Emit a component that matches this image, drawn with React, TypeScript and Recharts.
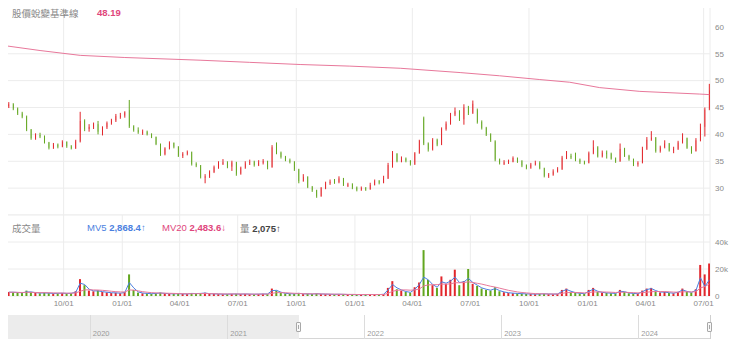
import React from "react";
import { ComposedChart, Bar, Line, XAxis, YAxis, CartesianGrid, Cell } from "recharts";

// weekly samples (Wednesdays)
const weeks2021 = ["07-07","07-14","07-21","07-28","08-04","08-11","08-18","08-25","09-01","09-08","09-15","09-22","09-29","10-06","10-13","10-20","10-27","11-03","11-10","11-17","11-24","12-01","12-08","12-15","12-22","12-29"];
const weeks2022 = ["01-05","01-12","01-19","01-26","02-02","02-09","02-16","02-23","03-02","03-09","03-16","03-23","03-30","04-06","04-13","04-20","04-27","05-04","05-11","05-18","05-25","06-01","06-08","06-15","06-22","06-29","07-06","07-13","07-20","07-27","08-03","08-10","08-17","08-24","08-31","09-07","09-14","09-21","09-28","10-05","10-12","10-19","10-26","11-02","11-09","11-16","11-23","11-30","12-07","12-14","12-21","12-28"];
const weeks2023 = ["01-04","01-11","01-18","01-25","02-01","02-08","02-15","02-22","03-01","03-08","03-15","03-22","03-29","04-05","04-12","04-19","04-26","05-03","05-10","05-17","05-24","05-31","06-07","06-14","06-21","06-28","07-05","07-12","07-19","07-26","08-02","08-09","08-16","08-23","08-30","09-06","09-13","09-20","09-27","10-04","10-11","10-18","10-25","11-01","11-08","11-15","11-22","11-29","12-06","12-13","12-20","12-27"];
const weeks2024 = ["01-03","01-10","01-17","01-24","01-31","02-07","02-14","02-21","02-28","03-06","03-13","03-20","03-27","04-03","04-10","04-17","04-24","05-01","05-08","05-15","05-22","05-29","06-05","06-12","06-19","06-26","07-03","07-10"];

const opens = [
  45.2, 45.6, 44.8, 43.9, 43.3, 40.9, 39.3, 39.9, 39.6, 38.5,
  37.5, 38.1, 37.7, 38.6, 37.8, 37.4, 38.7, 42.5, 41.0, 41.4,
  41.9, 40.5, 41.3, 42.1, 42.6, 43.4, 43.5, 44.5, 41.5, 40.8,
  40.4, 40.5, 40.0, 39.5, 38.2, 36.3, 37.4, 38.4, 37.7, 36.0,
  36.4, 36.7, 34.5, 34.2, 32.0, 32.2, 33.0, 33.9, 34.6, 34.8,
  34.0, 34.8, 32.7, 33.8, 34.6, 34.9, 34.3, 34.8, 35.0, 33.9,
  37.6, 36.6, 35.8, 35.2, 34.9, 33.5, 31.3, 32.1, 30.2, 29.6,
  28.5, 30.0, 30.9, 31.2, 31.1, 31.8, 30.6, 30.7, 30.1, 29.7,
  30.0, 29.8, 30.6, 31.3, 31.0, 31.8, 34.3, 36.4, 35.0, 35.5,
  35.1, 34.5, 36.5, 43.0, 38.3, 37.2, 39.0, 38.1, 41.0, 42.0,
  43.7, 44.3, 42.8, 45.0, 44.0, 44.5, 42.3, 41.2, 40.0, 38.7,
  35.3, 34.7, 34.8, 34.9, 35.6, 35.0, 34.2, 33.8, 34.4, 34.7,
  33.7, 32.3, 32.5, 33.1, 33.5, 35.7, 36.0, 35.7, 35.3, 34.8,
  34.7, 36.5, 37.6, 35.9, 36.6, 36.4, 35.5, 35.0, 37.3, 36.0,
  35.4, 34.4, 34.7, 37.3, 39.0, 39.4, 36.9, 37.6, 38.3, 37.0,
  37.3, 38.5, 39.3, 37.5, 36.9, 38.9, 41.4, 44.8,
];
const highs = [
  46.0, 45.8, 45.0, 44.2, 43.5, 41.0, 40.2, 40.3, 39.8, 38.6,
  38.4, 38.3, 38.9, 38.7, 38.0, 39.0, 44.2, 42.8, 41.9, 42.2,
  42.5, 41.5, 42.4, 42.9, 43.8, 44.0, 44.3, 46.4, 41.7, 41.3,
  40.9, 40.7, 40.2, 39.6, 38.3, 37.6, 38.7, 38.5, 37.8, 36.7,
  37.0, 36.8, 34.8, 34.3, 32.6, 33.3, 34.2, 35.0, 35.4, 35.0,
  35.1, 34.9, 34.0, 35.0, 35.3, 35.1, 35.2, 35.4, 35.1, 38.0,
  38.5, 36.8, 36.0, 35.5, 35.0, 33.6, 32.6, 32.2, 30.4, 29.7,
  30.2, 31.2, 31.6, 31.7, 32.2, 31.9, 31.0, 30.9, 30.3, 30.3,
  30.2, 31.0, 31.6, 31.5, 32.3, 34.7, 36.9, 36.5, 35.9, 35.7,
  35.2, 36.7, 39.0, 43.3, 38.5, 39.3, 39.2, 41.3, 42.4, 44.0,
  45.0, 44.5, 45.6, 45.3, 46.3, 44.8, 42.6, 41.4, 40.2, 38.9,
  35.5, 35.2, 35.3, 35.9, 35.7, 35.2, 34.4, 34.7, 35.1, 35.0,
  33.8, 32.8, 33.5, 33.9, 36.0, 36.9, 36.4, 36.6, 35.5, 35.1,
  36.8, 38.9, 37.8, 37.0, 37.0, 36.6, 35.7, 38.3, 37.5, 36.2,
  35.5, 35.0, 37.7, 39.5, 40.6, 39.5, 37.9, 38.9, 38.4, 37.7,
  38.8, 40.2, 39.4, 37.8, 39.3, 42.0, 45.0, 49.4,
];
const lows = [
  44.9, 44.5, 43.6, 43.0, 40.6, 39.0, 39.0, 39.3, 38.3, 37.2,
  37.3, 37.4, 37.6, 37.5, 37.2, 37.3, 38.5, 40.6, 40.5, 41.0,
  40.0, 39.8, 41.0, 41.8, 42.3, 42.9, 43.1, 41.2, 40.5, 40.1,
  39.9, 39.8, 39.3, 38.0, 36.0, 36.1, 37.2, 37.4, 35.8, 35.6,
  36.1, 34.2, 33.9, 31.8, 30.9, 31.9, 32.8, 33.6, 34.3, 33.7,
  33.2, 32.3, 32.5, 33.6, 34.3, 34.0, 34.1, 34.4, 33.5, 33.8,
  36.3, 35.5, 35.0, 34.6, 33.2, 30.9, 31.2, 30.0, 29.3, 28.2,
  28.4, 29.8, 30.6, 30.8, 30.9, 30.4, 30.2, 29.8, 29.4, 29.5,
  29.5, 29.7, 30.5, 30.7, 30.9, 31.7, 33.8, 34.8, 34.8, 34.8,
  34.2, 34.3, 36.4, 38.0, 36.8, 37.0, 37.8, 38.0, 40.7, 41.8,
  43.4, 42.5, 41.8, 43.6, 43.8, 42.0, 40.9, 39.7, 38.6, 35.0,
  34.4, 34.3, 34.5, 34.8, 34.7, 33.9, 33.5, 33.6, 34.2, 33.5,
  32.0, 31.9, 32.3, 32.9, 33.4, 35.4, 35.4, 35.0, 34.5, 34.4,
  34.6, 36.3, 35.7, 35.7, 35.5, 35.3, 34.7, 34.9, 35.8, 35.1,
  34.1, 34.0, 34.6, 37.1, 38.8, 36.6, 36.6, 37.4, 36.8, 36.5,
  37.1, 38.3, 37.3, 36.4, 36.8, 38.7, 39.6, 44.5,
];
const closes = [
  45.6, 44.8, 43.9, 43.3, 40.9, 39.3, 39.9, 39.6, 38.5, 37.5,
  38.1, 37.7, 38.6, 37.8, 37.4, 38.7, 42.5, 41.0, 41.4, 41.9,
  40.5, 41.3, 42.1, 42.6, 43.4, 43.5, 44.1, 41.5, 40.8, 40.4,
  40.5, 40.0, 39.5, 38.2, 36.3, 37.4, 38.4, 37.7, 36.0, 36.4,
  36.7, 34.5, 34.2, 32.0, 32.2, 33.0, 33.9, 34.6, 34.8, 34.0,
  34.8, 32.7, 33.8, 34.6, 34.9, 34.3, 34.8, 35.0, 33.9, 37.6,
  36.6, 35.8, 35.2, 34.9, 33.5, 31.3, 32.1, 30.2, 29.6, 28.5,
  30.0, 30.9, 31.2, 31.1, 31.8, 30.6, 30.7, 30.1, 29.7, 30.0,
  29.8, 30.6, 31.3, 31.0, 31.8, 34.3, 36.4, 35.0, 35.5, 35.1,
  34.5, 36.5, 38.8, 38.3, 37.2, 39.0, 38.1, 41.0, 42.0, 43.7,
  44.3, 42.8, 45.0, 44.0, 45.7, 42.3, 41.2, 40.0, 38.9, 35.3,
  34.7, 34.8, 34.9, 35.6, 35.0, 34.2, 33.8, 34.4, 34.7, 33.7,
  32.3, 32.5, 33.1, 33.5, 35.7, 36.0, 35.7, 35.3, 34.8, 34.7,
  36.5, 37.6, 35.9, 36.6, 36.4, 35.5, 35.0, 37.3, 36.0, 35.4,
  34.4, 34.7, 37.3, 39.0, 39.4, 36.9, 37.6, 38.3, 37.0, 37.3,
  38.5, 39.3, 37.5, 36.9, 38.9, 41.4, 44.6, 48.19,
];

// volume, thousands of lots
const volumes = [
  3.0, 2.8, 2.5, 2.2, 4.0, 3.0, 2.2, 2.0, 2.4, 2.1,
  1.8, 2.0, 2.2, 1.8, 2.0, 3.5, 12.5, 8.0, 4.0, 3.5,
  4.2, 3.0, 2.6, 2.2, 2.4, 2.0, 3.0, 16.0, 4.5, 2.5,
  2.0, 1.8, 1.6, 2.0, 2.5, 1.8, 1.6, 1.5, 1.8, 1.5,
  1.4, 2.2, 1.8, 2.0, 2.4, 1.6, 1.5, 1.4, 1.3, 1.4,
  1.5, 1.6, 1.4, 1.5, 1.3, 1.2, 1.4, 1.6, 1.5, 5.5,
  4.0, 2.2, 1.8, 1.5, 1.6, 2.2, 1.4, 1.6, 1.5, 1.8,
  1.4, 1.3, 1.2, 1.1, 1.3, 1.2, 1.0, 1.1, 1.0, 0.9,
  1.0, 1.2, 1.1, 1.0, 1.4, 6.0, 11.0, 5.0, 4.0, 3.0,
  2.5, 6.5, 10.0, 34.0, 12.0, 8.0, 6.0, 14.5, 9.0, 12.0,
  19.5, 8.0, 11.0, 20.0, 9.0, 7.5, 5.5, 4.5, 4.0, 6.5,
  3.5, 2.8, 2.2, 2.0, 1.8, 1.6, 1.5, 1.4, 1.3, 1.5,
  1.6, 1.4, 1.3, 1.5, 4.5, 5.5, 3.0, 2.2, 1.8, 1.6,
  4.5, 6.0, 3.0, 2.5, 2.2, 2.0, 1.8, 4.5, 3.0, 2.0,
  1.8, 1.6, 4.0, 5.5, 6.0, 3.5, 2.6, 3.0, 2.2, 2.0,
  3.0, 5.5, 3.0, 2.5, 5.0, 23.0, 16.0, 24.0,
];
const mv5 = [
  2.8, 2.8, 2.6, 2.4, 3.0, 3.0, 2.5, 2.2, 2.3, 2.1,
  1.9, 2.0, 2.1, 1.9, 2.0, 2.8, 9.5, 8.5, 5.0, 3.8,
  3.8, 3.2, 2.8, 2.4, 2.3, 2.1, 2.6, 10.0, 6.0, 3.0,
  2.2, 1.9, 1.7, 1.9, 2.2, 1.9, 1.7, 1.6, 1.7, 1.6,
  1.5, 1.9, 1.8, 1.9, 2.2, 1.7, 1.6, 1.5, 1.4, 1.4,
  1.5, 1.5, 1.4, 1.5, 1.4, 1.3, 1.4, 1.5, 1.5, 4.0,
  4.2, 2.8, 2.0, 1.7, 1.6, 2.0, 1.6, 1.6, 1.5, 1.7,
  1.5, 1.4, 1.3, 1.2, 1.3, 1.2, 1.1, 1.1, 1.0, 1.0,
  1.0, 1.1, 1.1, 1.0, 1.3, 4.5, 8.5, 6.0, 4.5, 3.3,
  2.7, 5.0, 8.5, 14.0, 12.0, 8.5, 6.5, 10.5, 9.5, 11.0,
  14.0, 10.0, 10.5, 13.0, 10.0, 8.0, 6.0, 5.0, 4.3, 5.5,
  4.0, 3.0, 2.4, 2.1, 1.9, 1.7, 1.6, 1.5, 1.4, 1.5,
  1.6, 1.5, 1.4, 1.5, 3.5, 4.8, 3.5, 2.5, 2.0, 1.7,
  3.5, 5.0, 3.5, 2.7, 2.3, 2.1, 1.9, 3.5, 3.2, 2.2,
  1.9, 1.7, 3.2, 4.8, 5.5, 4.0, 2.9, 2.9, 2.4, 2.1,
  2.8, 4.5, 3.4, 2.7, 4.2, 13.5, 7.0, 12.0,
];
const mv20 = [
  2.8, 2.8, 2.7, 2.6, 2.7, 2.7, 2.6, 2.5, 2.5, 2.4, 2.3, 2.2, 2.2, 2.1, 2.1, 2.3,
  3.5, 4.5, 4.6, 4.5, 4.4, 4.2, 3.9, 3.5, 3.2, 3.0, 3.0, 4.5, 4.3, 3.8, 3.2, 2.8,
  2.5, 2.3, 2.2, 2.1, 2.0, 1.9, 1.8, 1.7, 1.7, 1.7, 1.7, 1.8, 1.8, 1.8, 1.7, 1.6,
  1.5, 1.5, 1.5, 1.5, 1.5, 1.5, 1.4, 1.4, 1.4, 1.4, 1.4, 2.0, 2.5, 2.5, 2.4, 2.2,
  2.0, 1.9, 1.7, 1.6, 1.6, 1.6, 1.5, 1.5, 1.4, 1.4, 1.3, 1.3, 1.2, 1.2, 1.1, 1.1,
  1.1, 1.1, 1.1, 1.1, 1.1, 2.0, 3.5, 4.2, 4.5, 4.5, 4.3, 4.5, 5.2, 7.5, 8.2, 8.4,
  8.4, 8.8, 8.8, 9.0, 9.8, 9.8, 10.0, 10.5, 10.0, 9.4, 8.8, 8.0, 7.2, 6.6, 5.8, 5.0,
  4.2, 3.6, 3.0, 2.6, 2.3, 2.0, 1.8, 1.7, 1.6, 1.5, 1.5, 1.5, 2.0, 2.5, 2.6, 2.6,
  2.5, 2.3, 2.6, 3.0, 3.0, 3.0, 2.9, 2.8, 2.6, 2.8, 2.8, 2.6, 2.5, 2.3, 2.5, 2.8,
  3.2, 3.3, 3.3, 3.3, 3.1, 2.9, 2.8, 3.1, 3.1, 3.0, 3.2, 6.0, 7.0, 9.0,
];

// pink reference line
const baseDates = ["2021-07-01","2021-08-25","2021-10-27","2022-01-05","2022-05-03","2022-07-20","2022-10-07","2022-12-24","2023-03-13","2023-06-15","2023-08-16","2023-10-18","2023-12-04","2024-01-20","2024-03-23","2024-06-25","2024-07-10"];
const baseValues = [56.5, 55.6, 54.7, 54.3, 53.8, 53.4, 53.0, 52.7, 52.3, 51.5, 50.9, 50.2, 49.7, 48.7, 48.0, 47.5, 47.4];

const quarterTicks = ["2021-10-01","2022-01-01","2022-04-01","2022-07-01","2022-10-01","2023-01-01","2023-04-01","2023-07-01","2023-10-01","2024-01-01","2024-04-01","2024-07-01"];
const priceTicks = [25, 30, 35, 40, 45, 50, 55, 60, 65];
const volumeTicks = [0, 20, 40];
const navYears = ["2020", "2021", "2022", "2023", "2024"];

const UP = "#e2262b";
const DOWN = "#62a61f";
const PINK = "#e8789b";
const BLUE = "#4b7fe0";
const FONT = "Arial, 'Liberation Sans', 'Noto Sans CJK TC', sans-serif";

const dates = [
  ...weeks2021.map((d) => "2021-" + d),
  ...weeks2022.map((d) => "2022-" + d),
  ...weeks2023.map((d) => "2023-" + d),
  ...weeks2024.map((d) => "2024-" + d),
];

const rows = dates.map((d, i) => ({
  t: Date.parse(d),
  open: opens[i],
  high: highs[i],
  low: lows[i],
  close: closes[i],
  range: [lows[i], highs[i]],
  vol: volumes[i],
  mv5: mv5[i],
  mv20: mv20[i],
}));
const baseRows = baseDates.map((d, i) => ({ t: Date.parse(d), base: baseValues[i] }));
const xTicks = quarterTicks.map((d) => Date.parse(d));
const xDomain = [Date.parse("2021-07-01"), Date.parse("2024-07-11")];

const fmtDate = (v: number) => {
  const d = new Date(v);
  const mm = String(d.getUTCMonth() + 1).padStart(2, "0");
  const dd = String(d.getUTCDate()).padStart(2, "0");
  return `${mm}/${dd}`;
};

const Candle = (props: any) => {
  const { x, y, width, height, payload } = props;
  if (x == null || y == null || !payload) return null;
  const top = Math.min(y, y + height);
  const bot = Math.max(y, y + height);
  const span = payload.high - payload.low || 1;
  const toY = (v: number) => top + ((payload.high - v) / span) * (bot - top);
  const up = payload.close >= payload.open;
  const color = up ? UP : DOWN;
  const cx = x + width / 2;
  const y1 = toY(Math.max(payload.open, payload.close));
  const y2 = toY(Math.min(payload.open, payload.close));
  return (
    <g>
      <line x1={cx} x2={cx} y1={top} y2={bot} stroke={color} strokeWidth={1} />
      <rect x={x} y={y1} width={width} height={Math.max(1.5, y2 - y1)} fill={color} />
    </g>
  );
};

const tickStyle = { fontSize: 8, fill: "#8a8a8a", fontFamily: FONT };

// navigator scale (decoration under the chart)
const navStart = Date.parse("2019-05-20");
const navEnd = Date.parse("2024-07-10");
const navX = (d: string) => 5 + ((Date.parse(d) - navStart) / (navEnd - navStart)) * 705;

const Handle = ({ left }: { left: number }) => (
  <div
    style={{
      position: "absolute",
      left: left - 3,
      top: 322,
      width: 5,
      height: 10,
      background: "#f8f8f8",
      border: "1px solid #a8a8a8",
      borderRadius: 1,
      boxSizing: "border-box",
    }}
  >
    <div style={{ position: "absolute", left: 1, top: 2, width: 1, height: 4, background: "#a8a8a8" }} />
  </div>
);

export default function App() {
  const maskEnd = navX("2021-07-12");
  return (
    <div style={{ position: "relative", width: 740, height: 352, margin: -8, fontFamily: FONT, background: "#fff", overflow: "hidden" }}>
      <div style={{ position: "absolute", left: 0, top: 0 }}>
        <ComposedChart width={740} height={215} data={rows} margin={{ top: 0, right: 0, left: 5, bottom: 0 }}>
          <CartesianGrid stroke="#ececec" />
          <XAxis dataKey="t" type="number" domain={xDomain} ticks={xTicks} allowDataOverflow hide />
          <YAxis
            orientation="right"
            domain={[25, 65]}
            ticks={priceTicks}
            width={30}
            axisLine={false}
            tickLine={false}
            tickSize={5}
            tickMargin={0}
            tick={tickStyle}
            allowDataOverflow
          />
          <Bar dataKey="range" barSize={4} shape={<Candle />} isAnimationActive={false} />
          <Line data={baseRows} dataKey="base" type="linear" stroke={PINK} strokeWidth={1} dot={false} isAnimationActive={false} />
        </ComposedChart>
      </div>

      <div style={{ position: "absolute", left: 0, top: 210 }}>
        <ComposedChart width={740} height={110} data={rows} margin={{ top: 5, right: 0, left: 5, bottom: 0 }}>
          <CartesianGrid stroke="#ececec" />
          <XAxis
            dataKey="t"
            type="number"
            domain={xDomain}
            ticks={xTicks}
            tickFormatter={fmtDate}
            allowDataOverflow
            height={24}
            axisLine={false}
            tickLine={false}
            tickSize={4}
            tickMargin={0}
            tick={tickStyle}
          />
          <YAxis
            orientation="right"
            domain={[0, 60]}
            ticks={volumeTicks}
            tickFormatter={(v: number) => (v ? `${v}k` : "0")}
            width={30}
            axisLine={false}
            tickLine={false}
            tickSize={5}
            tickMargin={0}
            tick={tickStyle}
            allowDataOverflow
          />
          <Bar dataKey="vol" barSize={2} isAnimationActive={false}>
            {rows.map((r, i) => (
              <Cell key={i} fill={r.close >= r.open ? UP : DOWN} />
            ))}
          </Bar>
          <Line dataKey="mv5" type="linear" stroke={BLUE} strokeWidth={1} dot={false} isAnimationActive={false} />
          <Line dataKey="mv20" type="linear" stroke={PINK} strokeWidth={1} dot={false} isAnimationActive={false} />
        </ComposedChart>
      </div>

      {/* headers */}
      <div style={{ position: "absolute", left: 12, top: 7, fontSize: 9.5, color: "#888", fontFamily: "'Noto Sans CJK TC', sans-serif", lineHeight: "12px" }}>
        股價蛻變基準線
      </div>
      <div style={{ position: "absolute", left: 97, top: 7, fontSize: 9.5, color: "#e0467c", fontWeight: 700, lineHeight: "12px" }}>
        48.19
      </div>
      <div style={{ position: "absolute", left: 12, top: 222, fontSize: 9.5, color: "#888", fontFamily: "'Noto Sans CJK TC', sans-serif", lineHeight: "12px" }}>
        成交量
      </div>
      <div style={{ position: "absolute", left: 87, top: 222, fontSize: 9.5, color: BLUE, lineHeight: "12px", whiteSpace: "nowrap" }}>
        MV5 <b>2,868.4↑</b>
      </div>
      <div style={{ position: "absolute", left: 162, top: 222, fontSize: 9.5, color: "#e0467c", lineHeight: "12px", whiteSpace: "nowrap" }}>
        MV20 <b>2,483.6↓</b>
      </div>
      <div style={{ position: "absolute", left: 240, top: 222, fontSize: 9.5, color: "#444", lineHeight: "12px", whiteSpace: "nowrap" }}>
        <span style={{ color: "#777", fontFamily: "'Noto Sans CJK TC', sans-serif" }}>量</span> <b>2,075↑</b>
      </div>

      {/* navigator */}
      <div style={{ position: "absolute", left: 5, top: 315, width: 706, height: 24, borderBottom: "1px solid #d6d6d6", boxSizing: "border-box" }} />
      <div style={{ position: "absolute", left: 5, top: 315, width: maskEnd - 5, height: 24, background: "#ececec" }} />
      <div style={{ position: "absolute", left: 710, top: 315, width: 1, height: 24, background: "#cfcfcf" }} />
      {navYears.map((y) => {
        const x = navX(`${y}-01-01`);
        return (
          <React.Fragment key={y}>
            <div style={{ position: "absolute", left: x, top: 315, width: 1, height: 24, background: "#dcdcdc" }} />
            <div style={{ position: "absolute", left: x + 3, top: 329, fontSize: 7.5, color: "#9a9a9a", lineHeight: "9px" }}>{y}</div>
          </React.Fragment>
        );
      })}
      <Handle left={maskEnd} />
      <Handle left={710} />
    </div>
  );
}
